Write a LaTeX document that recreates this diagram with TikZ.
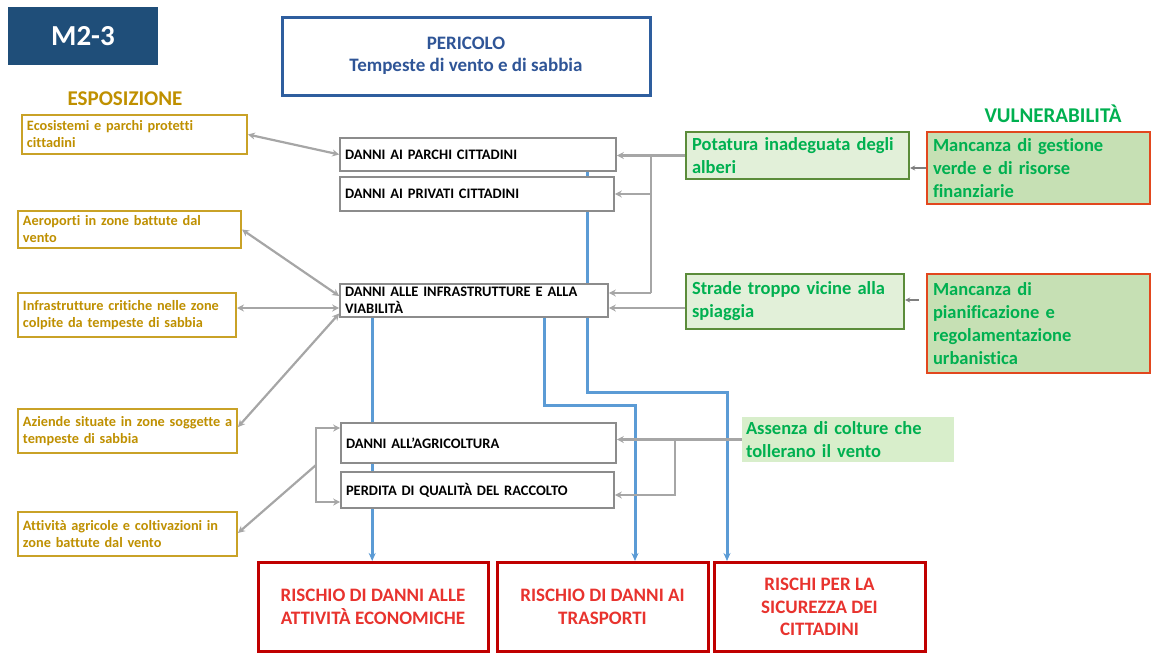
\documentclass[tikz,border=0pt]{standalone}
\usepackage{fontspec}
\setmainfont{Carlito}[Ligatures=NoCommon]
\usetikzlibrary{arrows.meta}
\pgfdeclarelayer{bg}
\pgfsetlayers{bg,main}
\definecolor{mblue}{HTML}{1F4E79}
\definecolor{pblue}{HTML}{2E5E9E}
\definecolor{ptext}{HTML}{2F5597}
\definecolor{gold}{HTML}{C9A227}
\definecolor{goldtxt}{HTML}{BF9000}
\definecolor{dgray}{HTML}{8C8C8C}
\definecolor{lgray}{HTML}{A6A6A6}
\definecolor{gtext}{HTML}{00B050}
\definecolor{gfill}{HTML}{E2F0D9}
\definecolor{gborder}{HTML}{5B8C3A}
\definecolor{rfill}{HTML}{C6E0B4}
\definecolor{rborder}{HTML}{E2471E}
\definecolor{gthreefill}{HTML}{D8EECB}
\definecolor{lblue}{HTML}{5B9BD5}
\definecolor{bborder}{HTML}{C00000}
\definecolor{btext}{HTML}{E8332E}
\definecolor{arrdark}{HTML}{7F7F7F}
\begin{document}
\begin{tikzpicture}[x=1pt,y=-1pt,
 expbox/.style={draw=gold, line width=2pt, fill=white, text=goldtxt, align=left, inner xsep=5pt, inner ysep=0pt, font=\fontsize{14.3}{17}\selectfont\bfseries},
 dmgbox/.style={draw=dgray, line width=1.6pt, fill=white, text=black, align=left, inner xsep=5pt, inner ysep=0pt, font=\fontsize{14.5}{17}\selectfont\bfseries},
 vulbox/.style={draw=gborder, line width=2.4pt, fill=gfill, text=gtext, align=left, inner xsep=6pt, inner ysep=0pt, font=\fontsize{18.5}{23}\selectfont\bfseries},
 causebox/.style={draw=rborder, line width=2.4pt, fill=rfill, text=gtext, align=left, inner xsep=6pt, inner ysep=0pt, font=\fontsize{18.5}{23}\selectfont\bfseries},
 riskbox/.style={draw=bborder, line width=3pt, fill=white, text=btext, align=center, inner sep=0pt, font=\fontsize{19}{22.5}\selectfont\bfseries},
 heading/.style={font=\fontsize{21}{24}\selectfont\bfseries, inner sep=0pt},
 garrow/.style={draw=lgray, line width=2.2pt, -{Stealth[length=7pt,width=7pt]}},
 gdouble/.style={draw=lgray, line width=2.2pt, {Stealth[length=7pt,width=7pt]}-{Stealth[length=7pt,width=7pt]}},
 gline/.style={draw=lgray, line width=2.2pt},
 darrow/.style={draw=arrdark, line width=1.5pt, -{Stealth[length=5pt,width=5pt]}},
 barrow/.style={draw=lblue, line width=3pt, -{Stealth[length=8pt,width=7pt]}},
]
\useasboundingbox (0,0) rectangle (1152,653);

% title
\node[fill=mblue, minimum width=150pt, minimum height=58pt, inner sep=0pt, text=white, font=\fontsize{29}{32}\selectfont\bfseries] (code) at (83,36) {M2-3};
\node[draw=pblue, line width=3pt, fill=white, minimum width=368pt, minimum height=78pt, align=center, text=ptext, font=\fontsize{19}{22}\selectfont\bfseries] (haz) at (466,56) {PERICOLO\\Tempeste di vento e di sabbia};

\node[heading, text=goldtxt] (esp) at (125,99) {ESPOSIZIONE};
\node[heading, text=gtext] (vul) at (1053,114) {VULNERABILITÀ};

% exposure
\node[expbox, text width=215pt, minimum height=39pt] (e1) at (134.5,134.5) {Ecosistemi e parchi protetti\\cittadini};
\node[expbox, text width=213pt, minimum height=37pt] (e2) at (129.5,229.5) {Aeroporti in zone battute dal\\vento};
\node[expbox, text width=208pt, minimum height=44pt] (e3) at (127,315) {\mbox{Infrastrutture critiche nelle zone}\\colpite da tempeste di sabbia};
\node[expbox, text width=209pt, minimum height=44pt] (e4) at (127.5,431) {\mbox{Aziende situate in zone soggette a}\\tempeste di sabbia};
\node[expbox, text width=209pt, minimum height=44pt] (e5) at (127.5,534) {\mbox{Attività agricole e coltivazioni in}\\zone battute dal vento};

% damages
\node[dmgbox, text width=266pt, minimum height=33pt] (d1) at (478,154.5) {DANNI AI PARCHI CITTADINI};
\node[dmgbox, text width=264pt, minimum height=34pt] (d2) at (477,194) {DANNI AI PRIVATI CITTADINI};
\node[dmgbox, text width=258pt, minimum height=33pt] (d3) at (474,300.5) {DANNI ALLE INFRASTRUTTURE E ALLA\\VIABILITÀ};
\node[dmgbox, text width=265pt, minimum height=40pt] (d4) at (478.5,443) {DANNI ALL’AGRICOLTURA};
\node[dmgbox, text width=263pt, minimum height=36pt] (d5) at (477.5,490) {PERDITA DI QUALITÀ DEL RACCOLTO};

% vulnerability
\node[vulbox, text width=211pt, minimum height=47pt] (g1) at (797.5,155.5) {\makebox[210pt][s]{Potatura inadeguata degli}\\alberi};
\node[vulbox, text width=206pt, minimum height=55pt] (g2) at (795,301.5) {\makebox[196pt][s]{Strade troppo vicine alla}\\spiaggia};
\node[causebox, text width=211pt, minimum height=72pt] (r1) at (1038.5,168) {\makebox[172pt][s]{Mancanza di gestione}\\verde e di risorse\\finanziarie};
\node[causebox, text width=211pt, minimum height=99pt] (r2) at (1038.5,323.5) {\makebox[101pt][s]{Mancanza di}\\\makebox[128pt][s]{pianificazione e}\\regolamentazione\\urbanistica};
\node[fill=gthreefill, text=gtext, align=left, inner xsep=4pt, inner ysep=0pt, text width=204pt, minimum height=45pt, font=\fontsize{18.5}{23}\selectfont\bfseries] (g3) at (848,439.5) {\makebox[178pt][s]{Assenza di colture che}\\tollerano il vento};

% risks
\node[riskbox, minimum width=230pt, minimum height=89pt] (b1) at (373,607) {RISCHIO DI DANNI ALLE\\ATTIVITÀ ECONOMICHE};
\node[riskbox, minimum width=211pt, minimum height=89pt] (b2) at (602.5,607) {RISCHIO DI DANNI AI\\TRASPORTI};
\node[riskbox, minimum width=211pt, minimum height=89pt] (b3) at (819.5,607) {RISCHI PER LA\\SICUREZZA DEI\\CITTADINI};

% blue flows
\begin{pgfonlayer}{bg}
\coordinate (s1) at ([xshift=33pt]d3.south west);
\draw[barrow] (s1) -- (s1 |- b1.north);
\coordinate (s2) at ([xshift=205pt]d3.south west);
\coordinate (k2) at (635,405);
\draw[barrow] (s2) |- (k2) -- (k2 |- b2.north);
\coordinate (s3) at ([xshift=248pt]d1.south west);
\coordinate (k3) at (727,392);
\draw[barrow] (s3) |- (k3) -- (k3 |- b3.north);
\end{pgfonlayer}

% exposure connectors
\draw[gdouble] (e1.east) -- (d1.west);
\draw[gdouble] (e2.east) -- ([yshift=4.5pt]d3.west);
\coordinate (e3r) at ([yshift=7pt]e3.east);
\draw[gdouble] (e3r) -- (e3r -| d3.west);
\draw[gdouble] ([yshift=4pt]e4.east) -- ([yshift=-13pt]d3.west);
\coordinate (brk) at (316,465);
\draw[garrow] (brk) -- ([yshift=1pt]e5.east);
\draw[garrow] (brk) |- ([yshift=15pt]d4.west);
\draw[garrow] (brk) |- ([yshift=-12pt]d5.west);

% vulnerability connectors
\coordinate (j1) at (651,155.5);
\coordinate (j1b) at (651,293);
\draw[gline] (g1.west) -- (j1);
\draw[garrow] (j1) -- (j1 -| d1.east);
\draw[gline] (j1) -- (j1b);
\draw[garrow] (j1 |- d2.east) -- (d2.east);
\draw[garrow] (j1b) -- (j1b -| d3.east);
\coordinate (g2l) at ([yshift=-6.5pt]g2.west);
\draw[garrow] (g2l) -- (g2l -| d3.east);
\draw[darrow] (r1.west) -- (r1.west -| g1.east);
\coordinate (r2l) at ([xshift=-7pt,yshift=23.5pt]r2.west);
\draw[darrow] (r2l) -- (r2l -| g2.east);
\draw[garrow] (g3.west) -- (g3.west -| d4.east);
\coordinate (j3) at (675,439.5);
\draw[garrow] (j3) |- ([yshift=-5pt]d5.east);
\end{tikzpicture}
\end{document}
